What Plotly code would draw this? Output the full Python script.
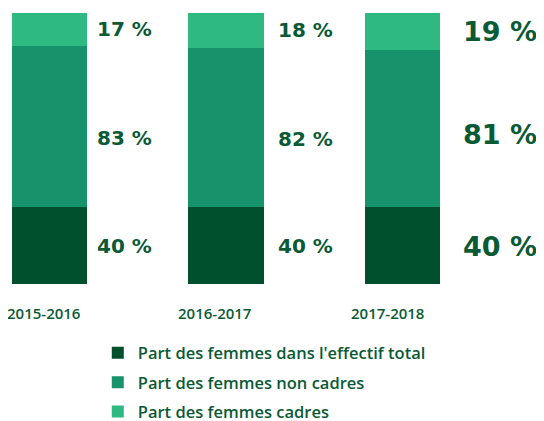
import plotly.graph_objects as go

categories = ["2015-2016", "2016-2017", "2017-2018"]
total_share = [40, 40, 40]
non_cadres = [83, 82, 81]
cadres = [17, 18, 19]
series_names = ["Part des femmes dans l'effectif total",
                "Part des femmes non cadres",
                "Part des femmes cadres"]
colors = ["#00502e", "#17936b", "#2eb982"]
text_color = "#0b5a36"

label_sizes = [20, 20, 27]
label_xshift = [45, 50, 58]
mid_yshift = [-12, -12, -6]
cat_xshift = [-6, -12, -15]

fig = go.Figure()
for name, vals, col in zip(series_names, [total_share, non_cadres, cadres], colors):
    fig.add_trace(go.Bar(x=categories, y=vals, name=name, marker=dict(color=col, line=dict(width=0)),
                         width=0.425, legendgroup=name, hoverinfo="skip"))

font_bold = "DejaVu Sans"
for i, c in enumerate(categories):
    d, m, l = total_share[i], non_cadres[i], cadres[i]
    for val, ypos, ys in [(l, d + m + l / 2, 0), (m, d + m / 2, mid_yshift[i]), (d, d / 2, -1)]:
        fig.add_annotation(x=c, y=ypos, text=f"<b>{val} %</b>", showarrow=False,
                           xanchor="left", yanchor="middle", xshift=label_xshift[i], yshift=ys,
                           font=dict(family=font_bold, size=label_sizes[i], color=text_color))
    fig.add_annotation(x=c, y=0, yref="paper", text=c, showarrow=False,
                       xanchor="center", yanchor="middle", xshift=cat_xshift[i], yshift=-29,
                       font=dict(family="Open Sans", size=15, weight=600, color=text_color))

fig.update_layout(
    width=536, height=413,
    margin=dict(l=0, r=0, t=5, b=137, autoexpand=False),
    barmode="stack",
    paper_bgcolor="white", plot_bgcolor="white",
    showlegend=True,
    legend=dict(x=0.1675, y=-0.19, xanchor="left", yanchor="top",
                traceorder="grouped", tracegroupgap=5,
                font=dict(family="Open Sans", size=16.5, weight=600, color=text_color),
                bgcolor="rgba(0,0,0,0)"),
    xaxis=dict(range=[-0.2351, 2.8017], showticklabels=False, showgrid=False, zeroline=False,
               showline=False, ticks=""),
    yaxis=dict(range=[0, 140], showticklabels=False, showgrid=False, zeroline=False,
               showline=False, ticks=""),
)

fig.write_html("out.html")
